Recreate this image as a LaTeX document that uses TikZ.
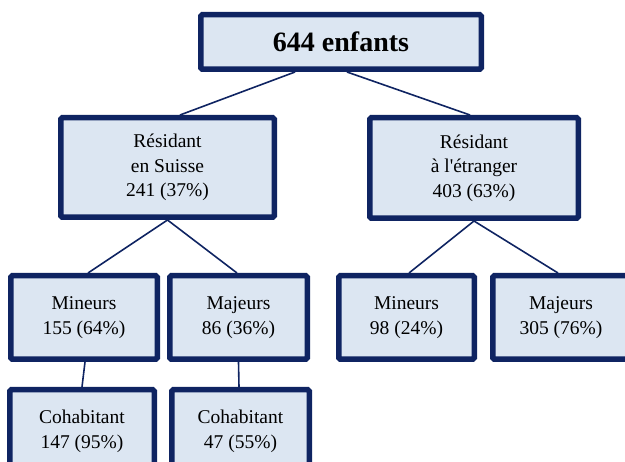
\documentclass[tikz,border=0pt]{standalone}
\usepackage{fontspec}
\setmainfont{Liberation Serif}
\usepackage{tikz}
\definecolor{boxline}{HTML}{0F2462}
\definecolor{boxfill}{HTML}{DCE6F2}

\begin{document}
\begin{tikzpicture}[x=1pt,y=-1pt,inner sep=0pt]
            \tikzstyle{group}=[rectangle,line width=5.5pt,draw=boxline,fill=boxfill,rounded corners=1.5pt,align=center,font=\fontsize{19.5}{24.5}\selectfont]
            \tikzstyle{total}=[group,font=\fontsize{28}{32}\selectfont\bfseries]
            \tikzstyle{link}=[line width=1.6pt,draw=boxline]
            \clip (0,0) rectangle (625,462);
            \begin{scope}
            \node[total,minimum width=280.5pt,minimum height=54.5pt](total) at (341,42){644 enfants};
            \node[group,minimum width=213.5pt,minimum height=99.5pt](suisse) at (167.5,167.5){Résidant\\en Suisse\\241 (37\%)};
            \node[group,minimum width=208.5pt,minimum height=100.5pt](etranger) at (474,168){Résidant\\à l\textquotesingle étranger\\403 (63\%)};
            \node[group,minimum width=146.5pt,minimum height=83.5pt](mineursch) at (84,317.5){Mineurs\\155 (64\%)};
            \node[group,minimum width=137.5pt,minimum height=83.5pt](majeursch) at (238.5,317.5){Majeurs\\86 (36\%)};
            \node[group,minimum width=144.5pt,minimum height=83.5pt](cohabmin) at (82,431.5){Cohabitant\\147 (95\%)};
            \node[group,minimum width=137.5pt,minimum height=83.5pt](cohabmaj) at (240.5,431.5){Cohabitant\\47 (55\%)};
            \node[group,minimum width=135.5pt,minimum height=83.5pt](mineursetr) at (406.5,317.5){Mineurs\\98 (24\%)};
            \node[group,minimum width=136.5pt,minimum height=83.5pt](majeursetr) at (561,317.5){Majeurs\\305 (76\%)};
            \end{scope}
            \draw[link] ([xshift=-46pt]total.south) -- ([xshift=12.5pt]suisse.north);
            \draw[link] ([xshift=6pt]total.south) -- ([xshift=-4pt]etranger.north);
            \draw[link] (suisse.south) -- ([xshift=4pt]mineursch.north);
            \draw[link] (suisse.south) -- ([xshift=-1.5pt]majeursch.north);
            \draw[link] ([xshift=1pt]mineursch.south) -- (cohabmin.north);
            \draw[link] (majeursch.south) -- ([xshift=-1.5pt]cohabmaj.north);
            \draw[link] (etranger.south) -- ([xshift=2.5pt]mineursetr.north);
            \draw[link] (etranger.south) -- ([xshift=-3pt]majeursetr.north);
        \end{tikzpicture}
\end{document}
